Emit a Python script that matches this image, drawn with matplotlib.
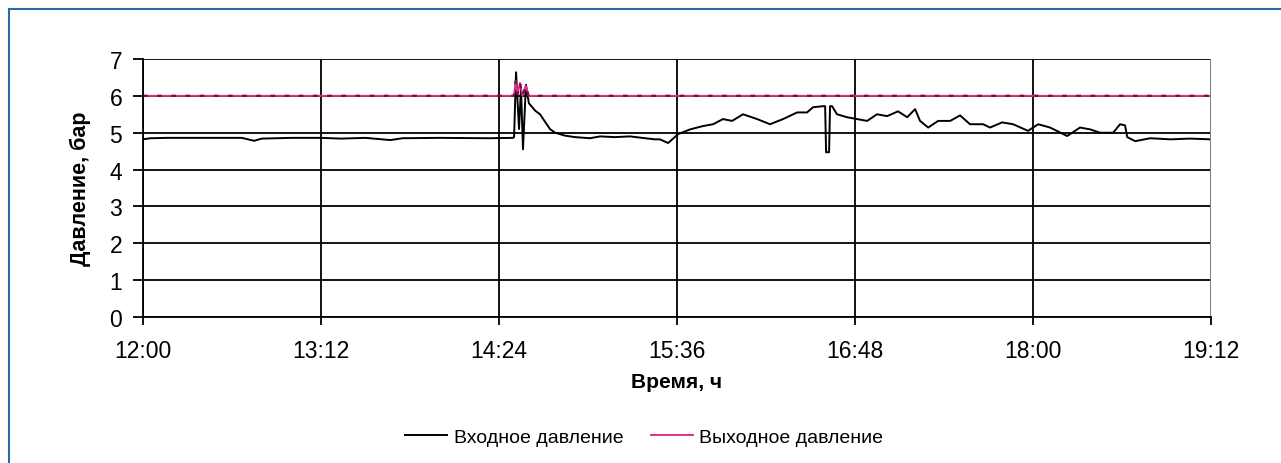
import matplotlib
matplotlib.use('Agg')
import matplotlib.pyplot as plt
from matplotlib.patches import Rectangle

plt.rcParams['font.family'] = ['Liberation Sans', 'DejaVu Sans']

# время в минутах от 12:00
t_in = [0, 3, 10, 20, 40, 45, 48, 60, 72, 80, 90, 100, 105, 120, 140, 149.7,
        150.1, 150.9, 152.1, 152.9, 153.7, 154.9, 156.1, 158.6, 160.6, 162.6, 164.6,
        166.7, 170.7, 174.8, 180.8, 184.9, 190.9, 197.0, 203.1, 207.1, 209.1, 212.4,
        216.4, 221.3, 226.5, 230.6, 234.6, 238.3, 242.7, 248.4, 253.6, 258.9, 264.6,
        268.6, 271.0, 275.1, 275.9, 276.3, 276.7, 277.5, 277.9, 278.7, 280.7, 284.8,
        288.8, 292.9, 296.9, 301.0, 305.4, 309.1, 312.3, 314.3, 317.6, 321.6, 326.5,
        330.5, 334.5, 339.8, 342.6, 347.5, 351.9, 358.0, 360.0, 362.1, 366.9, 373.8,
        379.0, 383.1, 387.1, 392.4, 395.2, 397.2, 398.1, 401.3, 407.4, 415.5, 423.5, 432]
p_in = [4.82, 4.85, 4.86, 4.86, 4.86, 4.78, 4.84, 4.86, 4.86, 4.84, 4.86, 4.80, 4.85, 4.86, 4.85, 4.86,
        4.88, 6.64, 5.10, 6.20, 4.55, 6.30, 5.80, 5.60, 5.50, 5.30, 5.10,
        5.00, 4.92, 4.88, 4.85, 4.90, 4.88, 4.90, 4.85, 4.82, 4.82, 4.72,
        4.96, 5.09, 5.18, 5.23, 5.37, 5.32, 5.50, 5.37, 5.23, 5.37, 5.55,
        5.55, 5.69, 5.72, 5.72, 4.47, 4.47, 4.47, 5.72, 5.72, 5.50, 5.42,
        5.37, 5.32, 5.50, 5.45, 5.58, 5.42, 5.64, 5.32, 5.14, 5.32, 5.32,
        5.47, 5.23, 5.23, 5.14, 5.28, 5.23, 5.05, 5.14, 5.23, 5.14, 4.91,
        5.14, 5.09, 5.00, 5.00, 5.23, 5.20, 4.88, 4.77, 4.85, 4.82, 4.84, 4.82]

t_out = [0, 150.0, 150.8, 151.5, 152.5, 153.5, 154.8, 156.0, 432]
p_out = [6.0, 6.0, 6.4, 6.05, 6.35, 6.0, 6.27, 6.0, 6.0]

xticks = [0, 72, 144, 216, 288, 360, 432]
xlabels = ['12:00', '13:12', '14:24', '15:36', '16:48', '18:00', '19:12']
yticks = [0, 1, 2, 3, 4, 5, 6, 7]

fig = plt.figure(figsize=(12.81, 4.64), dpi=100)
ax = fig.add_axes([0.1116, 0.3147, 0.9454 - 0.1116, 0.8707 - 0.3147])

ax.plot(t_in, p_in, color='black', lw=1.4, label='Входное давление')
ax.plot(t_out, p_out, color='#e0308a', lw=1.4, label='Выходное давление')
ax.plot(t_out, p_out, color='#7a1040', lw=1.7, dashes=(2, 4))

ax.set_xlim(0, 432)
ax.set_ylim(0, 7)
ax.set_xticks(xticks)
ax.set_xticklabels(xlabels)
ax.set_yticks(yticks)
ax.grid(True, color='black', lw=1.3)
ax.set_axisbelow(True)
for s in ['top', 'right']:
    ax.spines[s].set_visible(False)
ax.spines['left'].set_linewidth(1.3)
ax.spines['bottom'].set_linewidth(1.3)
ax.axvline(432, color='#888888', lw=1.3)
ax.tick_params(axis='x', direction='out', length=6, width=1.3, pad=10, labelsize=16.5)
ax.tick_params(axis='y', direction='out', length=7, width=1.3, pad=8, labelsize=16.5)

ax.set_xlabel('Время, ч', fontsize=15, fontweight='bold', labelpad=7)
ax.set_ylabel('Давление, бар', fontsize=15.5, fontweight='bold', labelpad=13)

fig.legend(loc='center', bbox_to_anchor=(0.503, 1 - 438 / 464), ncol=2, frameon=False,
           fontsize=14, handlelength=2.15, handletextpad=0.35, columnspacing=1.4)

fig.add_artist(Rectangle((9 / 1281, -0.05), 1.05, 1 - 10 / 464 + 0.05, transform=fig.transFigure,
                         fill=False, edgecolor='#2e6aa6', lw=1.5, clip_on=False))

fig.savefig('out.png', dpi=100)
